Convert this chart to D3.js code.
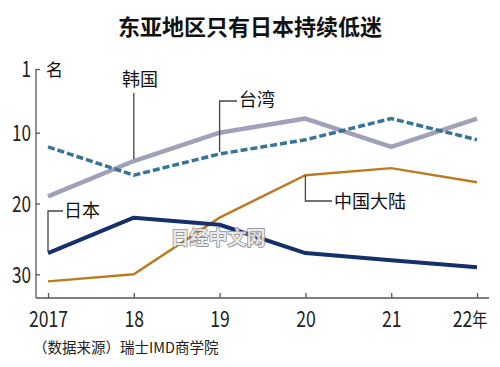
<!DOCTYPE html>
<html><head><meta charset="utf-8">
<script src="https://cdn.jsdelivr.net/npm/d3@7"></script>
<style>
html,body{margin:0;padding:0;background:#fff;}
svg{display:block;}
text{font-family:"Noto Sans CJK SC","Noto Sans",sans-serif;}
</style></head>
<body>
<svg id="c" width="500" height="367"></svg>
<script>
const years = [2017, 2018, 2019, 2020, 2021, 2022];
const yearLabels = ["2017", "18", "19", "20", "21", "22年"];
const japan = [27, 22, 23, 27, 28, 29];
const korea = [19, 14, 10, 8, 12, 8];
const taiwan = [12, 16, 13, 11, 8, 11];
const china = [31, 30, 22, 16, 15, 17];
const rankTicks = [1, 10, 20, 30];
const title = "东亚地区只有日本持续低迷";
const source = "（数据来源）瑞士IMD商学院";

const svg = d3.select("#c");
const x = d3.scaleLinear().domain([2017, 2022]).range([48, 477]);
const y = d3.scaleLinear().domain([1, 30]).range([69, 274.3]);
const axisColor = "#555";

// title
svg.append("text").attr("x", 250).attr("y", 35).attr("text-anchor", "middle")
  .attr("font-size", 22).attr("font-weight", "bold").attr("fill", "#111").text(title);

// axes
const yAxis = d3.axisLeft(y).tickValues(rankTicks).tickSize(-4).tickPadding(5).tickSizeOuter(0);
const gy = svg.append("g").attr("transform", "translate(36,0)").call(yAxis);
gy.select(".domain").remove();
gy.selectAll(".tick line").attr("stroke", axisColor).attr("stroke-width", 1.3);
gy.selectAll(".tick text").attr("font-family", "'Liberation Sans',Arial,sans-serif")
  .attr("font-size", 22).attr("fill", "#222")
  .attr("transform", "scale(0.78,1)")
  .attr("x", -5/0.78).attr("dy", "0.36em");

svg.append("line").attr("x1", 36).attr("x2", 36).attr("y1", y(1)).attr("y2", 298)
  .attr("stroke", axisColor).attr("stroke-width", 1.3);
svg.append("line").attr("x1", 36).attr("x2", 489).attr("y1", 298).attr("y2", 298)
  .attr("stroke", axisColor).attr("stroke-width", 1.3);

const xAxis = d3.axisBottom(x).tickValues(years).tickSize(-5).tickPadding(10)
  .tickFormat((d, i) => yearLabels[i]);
const gx = svg.append("g").attr("transform", "translate(0,298)").call(xAxis);
gx.select(".domain").remove();
gx.selectAll(".tick line").attr("stroke", axisColor).attr("stroke-width", 1.3);
gx.selectAll(".tick text").attr("font-family", "'Liberation Sans',Arial,sans-serif")
  .attr("font-size", 22).attr("fill", "#222").attr("dy", "0.85em")
  .attr("transform", "scale(0.8,1)")
  .attr("x", 0);
gx.selectAll(".tick").each(function(d, i){
  const t = d3.select(this).select("text");
  if (i === years.length - 1) {
    t.text(null);
    t.attr("text-anchor", "end").attr("x", 10/0.8);
    t.append("tspan").text("22");
    t.append("tspan").attr("font-family", "'Noto Sans CJK SC',sans-serif").attr("font-size", 19).text("年");
  }
});

// unit label
svg.append("text").attr("x", 46).attr("y", 76).attr("font-size", 17).attr("fill", "#111").text("名");

// lines
const line = d3.line().x((d, i) => x(years[i])).y(d => y(d));
svg.append("path").datum(korea).attr("d", line).attr("fill", "none")
  .attr("stroke", "#a0a0ba").attr("stroke-width", 4.5).attr("stroke-linejoin", "round");
svg.append("path").datum(taiwan).attr("d", line).attr("fill", "none")
  .attr("stroke", "#3a7398").attr("stroke-width", 3.5).attr("stroke-dasharray", "7,3");
svg.append("path").datum(china).attr("d", line).attr("fill", "none")
  .attr("stroke", "#b97c20").attr("stroke-width", 2.4);
svg.append("path").datum(japan).attr("d", line).attr("fill", "none")
  .attr("stroke", "#16306a").attr("stroke-width", 4).attr("stroke-linejoin", "round");

// leaders and labels
const lead = "#444";
function leader(pts){
  svg.append("path").attr("d", d3.line()(pts)).attr("fill", "none")
    .attr("stroke", lead).attr("stroke-width", 1.3);
}
const lbl = (tx, ty, s) => svg.append("text").attr("x", tx).attr("y", ty)
  .attr("font-size", 18).attr("fill", "#111").attr("dy", "0.36em").text(s);

leader([[x(2018), y(14) - 2], [x(2018), 93]]);
lbl(122, 80, "韩国");
leader([[x(2019), y(13) - 2], [x(2019), 101], [237, 101]]);
lbl(239, 100, "台湾");
leader([[x(2020), y(16)], [x(2020), 201], [332, 201]]);
lbl(334, 202, "中国大陆");
leader([[x(2017), y(27) - 2], [x(2017), 211], [63, 211]]);
lbl(64, 211, "日本");

// watermark
svg.append("text").attr("x", 218).attr("y", 238).attr("text-anchor", "middle").attr("dy", "0.36em")
  .attr("font-size", 19).attr("font-weight", "bold").attr("fill", "#e8e8e8")
  .attr("stroke", "#777").attr("stroke-width", 1.4).attr("paint-order", "stroke")
  .attr("opacity", 0.9).text("日经中文网");

// source
svg.append("text").attr("x", 33).attr("y", 353).attr("font-size", 14.5).attr("fill", "#222").text(source);
</script>
</body></html>
